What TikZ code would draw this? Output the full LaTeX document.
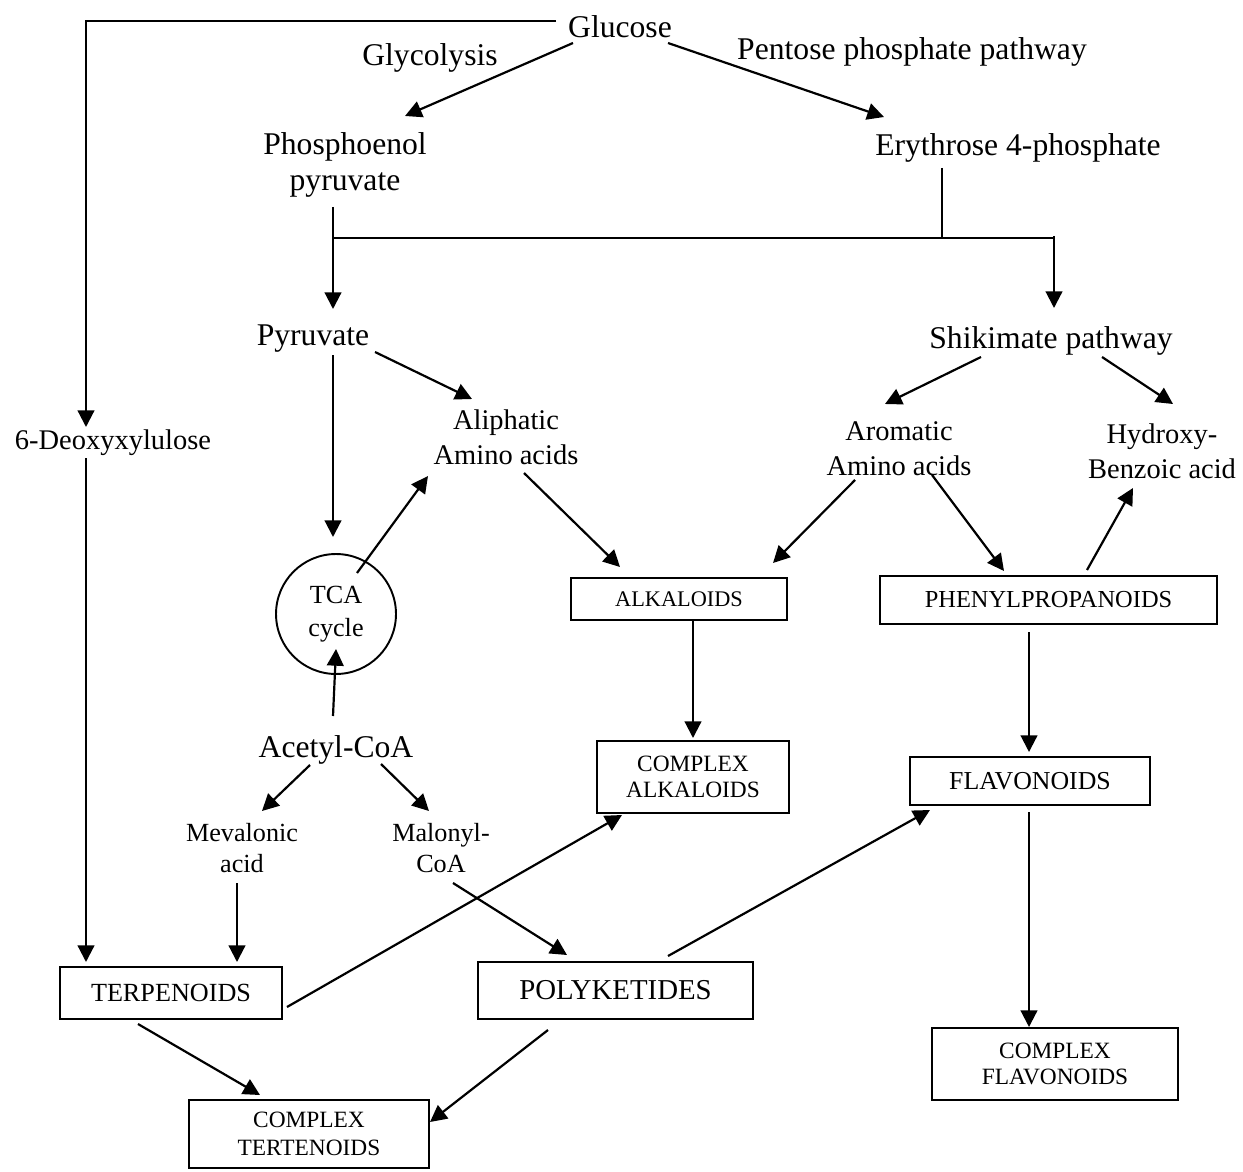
\documentclass[tikz,border=0pt]{standalone}
\usepackage{fontspec}
\setmainfont{Liberation Serif}
\usetikzlibrary{arrows.meta,calc}

\begin{document}
\begin{tikzpicture}[x=0.02cm,y=-0.02cm,
  arr/.style={-{Triangle[length=9.5pt,width=9.5pt]},line width=1.25pt},
  big/.style={inner sep=0pt,align=center,font=\fontsize{18}{20.4}\selectfont},
  mid/.style={inner sep=0pt,align=center,font=\fontsize{16.2}{19.8}\selectfont},
  small/.style={inner sep=0pt,align=center,font=\fontsize{14.9}{17.6}\selectfont},
  box/.style={draw,line width=1.1pt,inner sep=0pt,align=center,font=\fontsize{13.3}{14.6}\selectfont}]

\useasboundingbox (0,0) rectangle (1243,1172);

% Sugars
\node[big] (glu) at (620,27) {Glucose};
\node[big] (glyc) at (430,58) {Glycolysis};
\node[big] (ppp) at (912,52) {Pentose phosphate pathway};
\node[big] (pep) at (345,165) {Phosphoenol\\pyruvate};
\node[big] (ery) at (1018,148) {Erythrose 4-phosphate};
\node[big] (pyr) at (313,339) {Pyruvate};
\node[big] (shik) at (1051,341) {Shikimate pathway};

% Intermediates
\node[mid] (deox) at (113,443) {6-Deoxyxylulose};
\node[mid] (alip) at (506,437) {Aliphatic\\Amino acids};
\node[mid] (arom) at (899,449) {Aromatic\\Amino acids};
\node[mid] (hydr) at (1162,451) {Hydroxy-\\Benzoic acid};
\node[small,draw,circle,line width=1.1pt,minimum size=2.4cm,font=\fontsize{14.9}{18.7}\selectfont] (tca) at (336,614) {TCA\\cycle};
\node[big] (acet) at (336,750) {Acetyl-CoA};
\node[small] (meva) at (242,848) {Mevalonic\\acid};
\node[small] (malo) at (441,848) {Malonyl-\\CoA};

% Products
\node[box,minimum width=4.32cm,minimum height=0.84cm,font=\fontsize{12.7}{14.6}\selectfont] (alk) at (679,599) {ALKALOIDS};
\node[box,minimum width=6.74cm,minimum height=0.96cm,font=\fontsize{13.9}{15}\selectfont] (phen) at (1048.5,600) {PHENYLPROPANOIDS};
\node[box,minimum width=3.84cm,minimum height=1.44cm] (calk) at (693,777) {COMPLEX\\ALKALOIDS};
\node[box,minimum width=4.8cm,minimum height=0.96cm,font=\fontsize{14.7}{16}\selectfont] (flav) at (1030,781) {FLAVONOIDS};
\node[box,minimum width=4.44cm,minimum height=1.04cm,font=\fontsize{14.9}{16}\selectfont] (terp) at (171,993) {TERPENOIDS};
\node[box,minimum width=5.5cm,minimum height=1.14cm,font=\fontsize{16.4}{18}\selectfont] (poly) at (615.5,990.5) {POLYKETIDES};
\node[box,minimum width=4.92cm,minimum height=1.44cm] (cflav) at (1055,1064) {COMPLEX\\FLAVONOIDS};
\node[box,minimum width=4.8cm,minimum height=1.36cm,font=\fontsize{13.3}{15.6}\selectfont] (cterp) at (309,1134) {COMPLEX\\TERTENOIDS};

% Glucose branches
\draw[arr] ($(glu)+(-64,-6)$) -| ($(deox)+(-27,-16)$);
\draw[arr] ($(deox)+(-27,15)$) -- ($(terp)+(-85,-31)$);
\draw[arr] ($(glu)+(-47,16)$) -- ($(pep)+(60,-49)$);
\draw[arr] ($(glu)+(48,16)$) -- ($(ery)+(-134,-31)$);

% Split to pyruvate and shikimate
\draw[arr] ($(pep)+(-12,42)$) -- ($(pyr)+(20,-30)$);
\draw[line width=0.6pt] ($(ery)+(-76,20)$) -- ($(ery)+(-76,90)$);
\draw[line width=1pt] ($(pep)+(-12,73)$) -- ($(shik)+(3,-103)$);
\draw[arr] ($(shik)+(3,-105)$) -- ($(shik)+(3,-33)$);

% Pyruvate side
\draw[arr] ($(pyr)+(20,16)$) -- ($(tca)+(-3,-77)$);
\draw[arr] ($(pyr)+(62,13)$) -- ($(alip)+(-34,-38)$);
\draw[arr] ($(tca)+(21,-41)$) -- ($(alip)+(-78,39)$);
\draw[arr] ($(acet)+(-3,-34)$) -- ($(tca)+(0,35)$);
\draw[arr] ($(acet)+(-26,15)$) -- ($(meva)+(20,-37)$);
\draw[arr] ($(acet)+(45,14)$) -- ($(malo)+(-12,-37)$);
\draw[arr] ($(meva)+(-5,35)$) -- ($(terp)+(66,-31)$);
\draw[arr] ($(malo)+(12,35)$) -- ($(poly)+(-48.5,-35.5)$);
\draw[arr] ($(alip)+(18,36)$) -- ($(alk)+(-59,-32)$);
\draw[arr] ($(alk)+(14,21)$) -- ($(calk)+(0,-39)$);

% Shikimate side
\draw[arr] ($(shik)+(-70,16)$) -- ($(arom)+(-14,-45)$);
\draw[arr] ($(shik)+(51,16)$) -- ($(hydr)+(11,-47)$);
\draw[arr] ($(arom)+(-44,31)$) -- ($(alk)+(94,-36)$);
\draw[arr] ($(arom)+(33,26)$) -- ($(phen)+(-44.5,-29)$);
\draw[arr] ($(phen)+(38.5,-30)$) -- ($(hydr)+(-29,37)$);
\draw[arr] ($(phen)+(-19.5,32)$) -- ($(flav)+(-1,-29)$);
\draw[arr] ($(flav)+(-1,31)$) -- ($(cflav)+(-26,-37)$);

% Lower products
\draw[arr] ($(terp)+(116,14)$) -- ($(calk)+(-71,38)$);
\draw[arr] ($(terp)+(-33,31)$) -- ($(cterp)+(-49,-39)$);
\draw[arr] ($(poly)+(-67.5,39.5)$) -- ($(cterp)+(121,-12)$);
\draw[arr] ($(poly)+(52.5,-34.5)$) -- ($(flav)+(-100,29)$);

\end{tikzpicture}
\end{document}
